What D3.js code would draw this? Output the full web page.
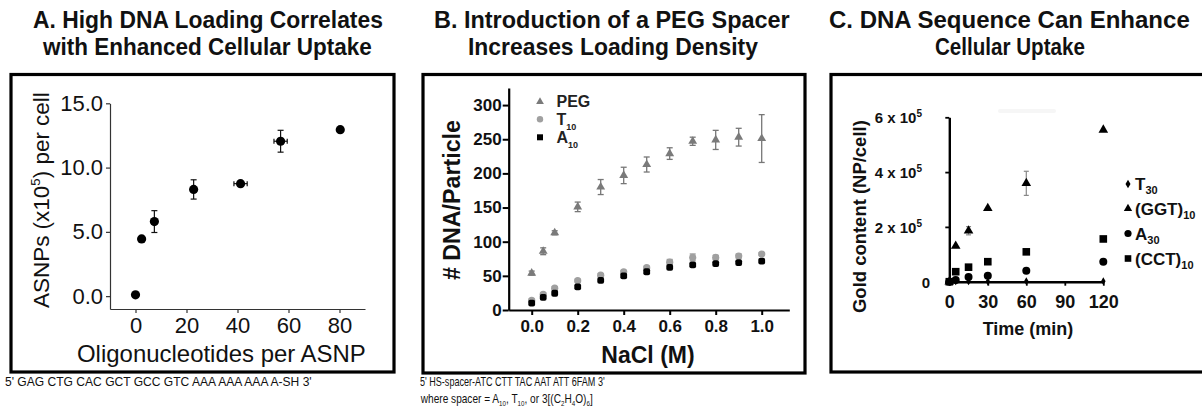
<!DOCTYPE html>
<html><head><meta charset="utf-8">
<script src="https://cdn.jsdelivr.net/npm/d3@7"></script>
<style>body{margin:0;background:#fff} svg{display:block} text{font-family:Arial,"Liberation Sans",sans-serif}</style>
</head><body><svg id="c" width="1202" height="413"></svg>
<script>
// ---------- Panel A data ----------
const aOligo = [0, 2.4, 7.4, 22.8, 41.2, 56.9, 80.3];
const aUptake = [0.1, 4.45, 5.8, 8.3, 8.75, 12.05, 12.95];
const aUptakeErr = [0, 0, 0.85, 0.75, 0.15, 0.85, 0];
const aOligoErr = [0, 0, 0, 0, 2.6, 2.6, 0];
const aXTicks = [0, 20, 40, 60, 80];
const aYTicks = [0, 5, 10, 15];
// ---------- Panel B data ----------
const bSalt = [0, 0.05, 0.1, 0.2, 0.3, 0.4, 0.5, 0.6, 0.7, 0.8, 0.9, 1.0];
const bPEG = [54, 86, 113, 151, 180, 197, 213, 229, 247, 249, 253, 251];
const bPEGErr = [3, 5, 3, 7, 11, 12, 11, 8.5, 6, 14, 13, 35];
const bT10 = [14, 23, 32, 43, 51, 56, 62, 70, 77, 77, 79, 82];
const bT10Err = [2, 2, 2, 2, 2, 2, 2, 4, 5, 3, 3, 2];
const bA10 = [10, 18.5, 24.5, 34, 43.5, 50, 56, 62.5, 66, 68, 69.5, 71.5];
const bXTicks = [0, 0.2, 0.4, 0.6, 0.8, 1.0];
const bYTicks = [0, 50, 100, 150, 200, 250, 300];
// ---------- Panel C data (x10^5 NP/cell) ----------
const cTime = [0, 5, 15, 30, 60, 120];
const cT30 = [0, 0.01, 0.01, 0.01, 0.02, 0.02];
const cGGT = [0, 1.3, 1.86, 2.68, 3.59, 5.54];
const cGGTErr = [0, 0, 0.15, 0, 0.44, 0];
const cA30 = [0, 0.06, 0.17, 0.22, 0.40, 0.73];
const cCCT = [0, 0.365, 0.53, 0.73, 1.09, 1.56];
const cXTicks = [0, 30, 60, 90, 120];
const cYTicks = [0, 2, 4, 6];

const svg = d3.select('#c');
svg.append('rect').attr('width',1202).attr('height',413).attr('fill','#fff');

function fit(t, left, width){
  const bb = t.node().getBBox();
  const s = width / bb.width;
  t.attr('transform', `translate(${left - bb.x*s},0) scale(${s},1)`);
}
function fitV(t, cx, top, height){
  const bb = t.node().getBBox();
  const s = height / bb.width;
  const cy = top + height/2;
  t.attr('transform', `translate(${cx},${cy}) rotate(-90) scale(${s},1) translate(${-(bb.x+bb.width/2)},0)`);
}
function rich(t, segs){
  let cur = 0;
  segs.forEach(sg => {
    const sp = t.append('tspan').text(sg.t);
    if (sg.s) sp.attr('font-size', sg.s);
    const dy = (sg.dy||0) - cur;
    if (dy) sp.attr('dy', dy);
    cur = sg.dy||0;
  });
  return t;
}

// ---------- Titles ----------
const titles = [
  ['A. High DNA Loading Correlates', 28, 33, 350], ['with Enhanced Cellular Uptake', 55, 42, 330],
  ['B. Introduction of a PEG Spacer', 28, 434, 356], ['Increases Loading Density', 55, 468, 290],
  ['C. DNA Sequence Can Enhance', 28, 829, 361], ['Cellular Uptake', 55, 935, 150]
];
titles.forEach(([s,y,l,w]) => {
  const t = svg.append('text').attr('y',y).attr('font-size',23.5).attr('font-weight','bold').attr('fill','#111').text(s);
  fit(t,l,w);
});

// ---------- Frames ----------
[[11,74.5,394,372],[423,74.5,805,373],[831,74.5,1206,372]].forEach(([x0,y0,x1,y1]) => {
  svg.append('rect').attr('x',x0).attr('y',y0).attr('width',x1-x0).attr('height',y1-y0)
    .attr('fill','none').attr('stroke','#000').attr('stroke-width',3.2);
});

// ================= Panel A =================
{
  const x = d3.scaleLinear().domain([-10,90]).range([110,365]);
  const y = d3.scaleLinear().domain([-1,15]).range([309,103.3]);
  const g = svg.append('g');
  const xa = g.append('g').attr('transform','translate(0,309)').call(d3.axisBottom(x).tickValues(aXTicks).tickSize(4).tickFormat(d=>d).tickSizeOuter(0));
  const ya = g.append('g').attr('transform','translate(110,0)').call(d3.axisLeft(y).tickValues(aYTicks).tickSize(4).tickFormat(d3.format('.1f')).tickSizeOuter(0));
  [xa,ya].forEach(a => { a.select('.domain').attr('stroke','#333').attr('stroke-width',1.2);
    a.selectAll('.tick line').attr('stroke','#333').attr('stroke-width',1.2);
    a.selectAll('text').attr('font-size',22).attr('fill','#111').attr('font-family','Arial,"Liberation Sans",sans-serif'); });
  xa.selectAll('text').attr('y',8).attr('dy','0.71em');
  ya.selectAll('text').attr('x',-7);
  aOligo.forEach((v,i) => {
    if (aUptakeErr[i]) {
      const cx = x(v), y0 = y(aUptake[i]-aUptakeErr[i]), y1 = y(aUptake[i]+aUptakeErr[i]);
      g.append('line').attr('x1',cx).attr('x2',cx).attr('y1',y0).attr('y2',y1).attr('stroke','#111').attr('stroke-width',1.2);
      [y0,y1].forEach(yy => g.append('line').attr('x1',cx-3).attr('x2',cx+3).attr('y1',yy).attr('y2',yy).attr('stroke','#111').attr('stroke-width',1.2));
    }
    if (aOligoErr[i]) {
      const cy = y(aUptake[i]), x0 = x(v-aOligoErr[i]), x1 = x(v+aOligoErr[i]);
      g.append('line').attr('x1',x0).attr('x2',x1).attr('y1',cy).attr('y2',cy).attr('stroke','#111').attr('stroke-width',1.2);
      [x0,x1].forEach(xx => g.append('line').attr('x1',xx).attr('x2',xx).attr('y1',cy-2.5).attr('y2',cy+2.5).attr('stroke','#111').attr('stroke-width',1.2));
    }
  });
  g.selectAll('circle.a').data(aOligo).join('circle').attr('cx',d=>x(d)).attr('cy',(d,i)=>y(aUptake[i])).attr('r',4.6).attr('fill','#000');
  const xl = svg.append('text').attr('y',362).attr('font-size',23).attr('fill','#111').text('Oligonucleotides per ASNP');
  fit(xl, 77, 289);
  const yl = svg.append('text').attr('y',0).attr('font-size',22).attr('fill','#111');
  rich(yl,[{t:'ASNPs (x10'},{t:'5',s:13,dy:-9},{t:') per cell'}]);
  fitV(yl, 49, 92, 216);
  const sq = svg.append('text').attr('y',386).attr('font-size',13).attr('fill','#111').text("5' GAG CTG CAC GCT GCC GTC AAA AAA AAA A-SH 3'");
  fit(sq, 5, 307);
}

// ================= Panel B =================
{
  const x = d3.scaleLinear().domain([-0.1,1.12]).range([508.7,789.3]);
  const y = d3.scaleLinear().domain([0,325]).range([310,88]);
  const g = svg.append('g');
  const xa = g.append('g').attr('transform','translate(0,310)').call(d3.axisBottom(x).tickValues(bXTicks).tickSize(5).tickFormat(d3.format('.1f')).tickSizeOuter(0));
  const ya = g.append('g').attr('transform','translate(508.7,0)').call(d3.axisLeft(y).tickValues(bYTicks).tickSize(6).tickSizeOuter(0));
  [xa,ya].forEach(a => { a.select('.domain').attr('stroke','#000').attr('stroke-width',2.2);
    a.selectAll('.tick line').attr('stroke','#000').attr('stroke-width',2);
    a.selectAll('text').attr('font-size',17).attr('font-weight','bold').attr('fill','#111').attr('font-family','Arial,"Liberation Sans",sans-serif'); });
  xa.selectAll('text').attr('y',10).attr('dy','0.71em');
  ya.selectAll('text').attr('x',-7);
  const errs = [[bPEG,bPEGErr,'#777'],[bT10,bT10Err,'#9a9a9a']];
  errs.forEach(([vals,err,col]) => {
    bSalt.forEach((v,i) => {
      const cx = x(v), y0 = y(vals[i]-err[i]), y1 = y(vals[i]+err[i]);
      g.append('line').attr('x1',cx).attr('x2',cx).attr('y1',y0).attr('y2',y1).attr('stroke',col).attr('stroke-width',1.3);
      [y0,y1].forEach(yy => g.append('line').attr('x1',cx-3).attr('x2',cx+3).attr('y1',yy).attr('y2',yy).attr('stroke',col).attr('stroke-width',1.3));
    });
  });
  const tri = d3.symbol().type(d3.symbolTriangle).size(34);
  g.selectAll('path.peg').data(bSalt).join('path').attr('d',tri).attr('transform',(d,i)=>`translate(${x(d)},${y(bPEG[i])})`).attr('fill','#7a7a7a');
  g.selectAll('circle.t10').data(bSalt).join('circle').attr('cx',d=>x(d)).attr('cy',(d,i)=>y(bT10[i])).attr('r',3.6).attr('fill','#a0a0a0');
  g.selectAll('rect.a10').data(bSalt).join('rect').attr('x',d=>x(d)-3.4).attr('y',(d,i)=>y(bA10[i])-3.4).attr('width',6.8).attr('height',6.8).attr('rx',2).attr('fill','#000');
  const lg = [['PEG',null,101.7,'tri'],['T','10',119.3,'circ'],['A','10',137.3,'sq']];
  lg.forEach(([t,sub,yy,m]) => {
    if (m==='tri') g.append('path').attr('d',d3.symbol().type(d3.symbolTriangle).size(26)).attr('transform',`translate(540,${yy})`).attr('fill','#7a7a7a');
    if (m==='circ') g.append('circle').attr('cx',540).attr('cy',yy).attr('r',3.2).attr('fill','#a0a0a0');
    if (m==='sq') g.append('rect').attr('x',537).attr('y',yy-3).attr('width',6).attr('height',6).attr('fill','#000');
    const te = g.append('text').attr('x',556.5).attr('y',yy+5.5).attr('font-size',16).attr('font-weight','bold').attr('fill','#222');
    rich(te, sub ? [{t:t},{t:sub,s:9,dy:5}] : [{t:t}]);
  });
  svg.append('text').attr('x',648).attr('y',363).attr('text-anchor','middle').attr('font-size',23).attr('font-weight','bold').attr('fill','#111').text('NaCl (M)');
  const yl = svg.append('text').attr('y',0).attr('font-size',23).attr('font-weight','bold').attr('fill','#111').text('# DNA/Particle');
  fitV(yl, 460, 120, 160);
  const s1 = svg.append('text').attr('y',386).attr('font-size',13).attr('fill','#111').text("5' HS-spacer-ATC CTT TAC AAT ATT 6FAM 3'");
  fit(s1, 420, 185);
  const s2 = svg.append('text').attr('y',403).attr('font-size',13).attr('fill','#111');
  rich(s2,[{t:'where spacer = A'},{t:'10',s:8,dy:3},{t:', T'},{t:'10',s:8,dy:3},{t:', or 3[(C'},{t:'2',s:8,dy:3},{t:'H'},{t:'4',s:8,dy:3},{t:'O)'},{t:'6',s:8,dy:3},{t:']'}]);
  fit(s2, 420, 173);
}

// ================= Panel C =================
{
  const x = d3.scaleLinear().domain([0,120]).range([949.3,1103.3]);
  const y = d3.scaleLinear().domain([0,6]).range([281.7,117.3]);
  const g = svg.append('g');
  // very faint ghost artifact near the top of the plot
  g.append('rect').attr('x',998).attr('y',109).attr('width',58).attr('height',4).attr('rx',2).attr('fill','#f6f6f6');
  const xa = g.append('g').attr('transform','translate(0,281.7)').call(d3.axisBottom(x).tickValues(cXTicks).tickSize(4).tickFormat(d=>d).tickSizeOuter(0));
  const ya = g.append('g').attr('transform','translate(949.3,0)').call(d3.axisLeft(y).tickValues(cYTicks).tickSize(4).tickFormat('').tickSizeOuter(0));
  [xa,ya].forEach(a => { a.select('.domain').attr('stroke','#000').attr('stroke-width',2.4);
    a.selectAll('.tick line').attr('stroke','#000').attr('stroke-width',1.8);
    a.selectAll('text').attr('font-size',18).attr('font-weight','bold').attr('fill','#111').attr('font-family','Arial,"Liberation Sans",sans-serif'); });
  xa.selectAll('text').attr('y',14).attr('dy','0.71em');
  cYTicks.forEach(v => {
    const t = g.append('text').attr('x',922).attr('y',y(v)+6).attr('text-anchor','end').attr('font-size',15).attr('font-weight','bold').attr('fill','#111');
    if (v===0) { t.attr('x',930).text('0'); }
    else rich(t,[{t:v+' x 10'},{t:'5',s:10,dy:-6}]);
  });
  cTime.forEach((v,i) => {
    if (cGGTErr[i]) {
      const cx = x(v), y0 = y(cGGT[i]-cGGTErr[i]), y1 = y(cGGT[i]+cGGTErr[i]);
      g.append('line').attr('x1',cx).attr('x2',cx).attr('y1',y0).attr('y2',y1).attr('stroke','#888').attr('stroke-width',1.2);
      [y0,y1].forEach(yy => g.append('line').attr('x1',cx-2.5).attr('x2',cx+2.5).attr('y1',yy).attr('y2',yy).attr('stroke','#888').attr('stroke-width',1.2));
    }
  });
  const tri = d3.symbol().type(d3.symbolTriangle).size(40);
  const dia = d3.symbol().type(d3.symbolDiamond).size(18);
  g.selectAll('path.t30').data(cTime).join('path').attr('d',dia).attr('transform',(d,i)=>`translate(${x(d)},${y(cT30[i])})`).attr('fill','#000');
  g.selectAll('circle.a30').data(cTime).join('circle').attr('cx',d=>x(d)).attr('cy',(d,i)=>y(cA30[i])).attr('r',4).attr('fill','#000');
  g.selectAll('rect.cct').data(cTime).join('rect').attr('x',d=>x(d)-3.8).attr('y',(d,i)=>y(cCCT[i])-3.8).attr('width',7.6).attr('height',7.6).attr('fill','#000');
  g.selectAll('path.ggt').data(cTime).join('path').attr('d',tri).attr('transform',(d,i)=>`translate(${x(d)},${y(cGGT[i])})`).attr('fill','#000');
  const lg = [['T','30',184,'dia'],['(GGT)','10',208.5,'tri'],['A','30',233.5,'circ'],['(CCT)','10',258.5,'sq']];
  lg.forEach(([t,sub,yy,m]) => {
    const mx = 1128;
    if (m==='dia') g.append('path').attr('d',d3.symbol().type(d3.symbolDiamond).size(22)).attr('transform',`translate(${mx},${yy})`).attr('fill','#000');
    if (m==='tri') g.append('path').attr('d',d3.symbol().type(d3.symbolTriangle).size(30)).attr('transform',`translate(${mx},${yy})`).attr('fill','#000');
    if (m==='circ') g.append('circle').attr('cx',mx).attr('cy',yy).attr('r',3.6).attr('fill','#000');
    if (m==='sq') g.append('rect').attr('x',mx-3.3).attr('y',yy-3.3).attr('width',6.6).attr('height',6.6).attr('fill','#000');
    const te = g.append('text').attr('x',1135).attr('y',yy+6).attr('font-size',17).attr('font-weight','bold').attr('fill','#111');
    rich(te,[{t:t},{t:sub,s:11,dy:4}]);
  });
  svg.append('text').attr('x',1028).attr('y',335).attr('text-anchor','middle').attr('font-size',18).attr('font-weight','bold').attr('fill','#111').text('Time (min)');
  const yl = svg.append('text').attr('y',0).attr('font-size',18.5).attr('font-weight','bold').attr('fill','#111').text('Gold content (NP/cell)');
  fitV(yl, 866, 120, 193);
}
</script></body></html>
